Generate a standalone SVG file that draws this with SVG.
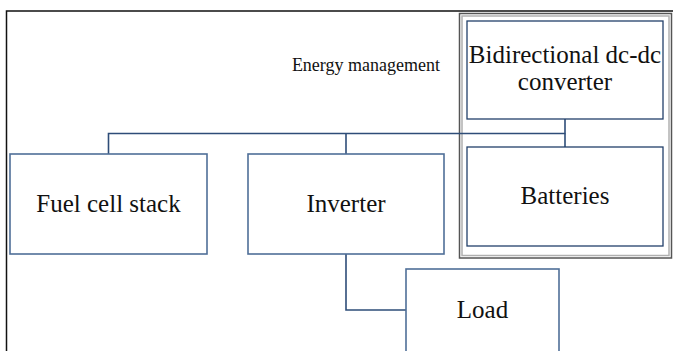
<svg xmlns="http://www.w3.org/2000/svg" width="673" height="351" viewBox="0 0 673 351">
  <style>
    .box { fill: #ffffff; stroke: #4f6f98; stroke-width: 1.6; }
    .box2 { fill: #ffffff; stroke: #23406a; stroke-width: 1.3; }
    .wire { fill: none; stroke: #2e4d78; stroke-width: 1.6; }
    .lbl { font-family: "Liberation Serif", "Times New Roman", serif; font-size: 25px; fill: #111111; text-anchor: middle; }
    .small { font-family: "Liberation Serif", "Times New Roman", serif; font-size: 18px; fill: #111111; }
  </style>
  <rect x="0" y="0" width="673" height="351" fill="#ffffff"/>

  <!-- outer frame -->
  <path d="M6.5 351 V11 H673" fill="none" stroke="#111111" stroke-width="1.5"/>

  <!-- energy management enclosure (double border) -->
  <g id="energy-management">
    <rect x="459.5" y="13.5" width="212" height="244.5" fill="none" stroke="#555555" stroke-width="1.5"/>
    <rect x="462" y="16" width="207" height="239.5" fill="none" stroke="#b0b0b0" stroke-width="1.5"/>
    <text class="small" x="440" y="71" text-anchor="end">Energy management</text>
  </g>

  <!-- connectors -->
  <g id="connectors">
    <path class="wire" d="M108.5 154 V133.5 H565 V119"/>
    <path class="wire" d="M346 154 V133.5"/>
    <path class="wire" d="M565 133.5 V147"/>
    <path class="wire" d="M346 254 V310 H406"/>
  </g>

  <g id="bidirectional-converter">
    <rect class="box2" x="467" y="21" width="196" height="98"/>
    <text class="lbl" x="565" y="63">Bidirectional dc-dc</text>
    <text class="lbl" x="565" y="90">converter</text>
  </g>

  <g id="batteries">
    <rect class="box2" x="467" y="147" width="196" height="99"/>
    <text class="lbl" x="565" y="204">Batteries</text>
  </g>

  <g id="fuel-cell-stack">
    <rect class="box" x="10" y="154" width="197" height="100"/>
    <text class="lbl" x="108.5" y="212">Fuel cell stack</text>
  </g>

  <g id="inverter">
    <rect class="box" x="248" y="154" width="196" height="100"/>
    <text class="lbl" x="346" y="212">Inverter</text>
  </g>

  <g id="load">
    <rect class="box" x="406" y="269" width="153" height="100"/>
    <text class="lbl" x="482.5" y="318">Load</text>
  </g>
</svg>
